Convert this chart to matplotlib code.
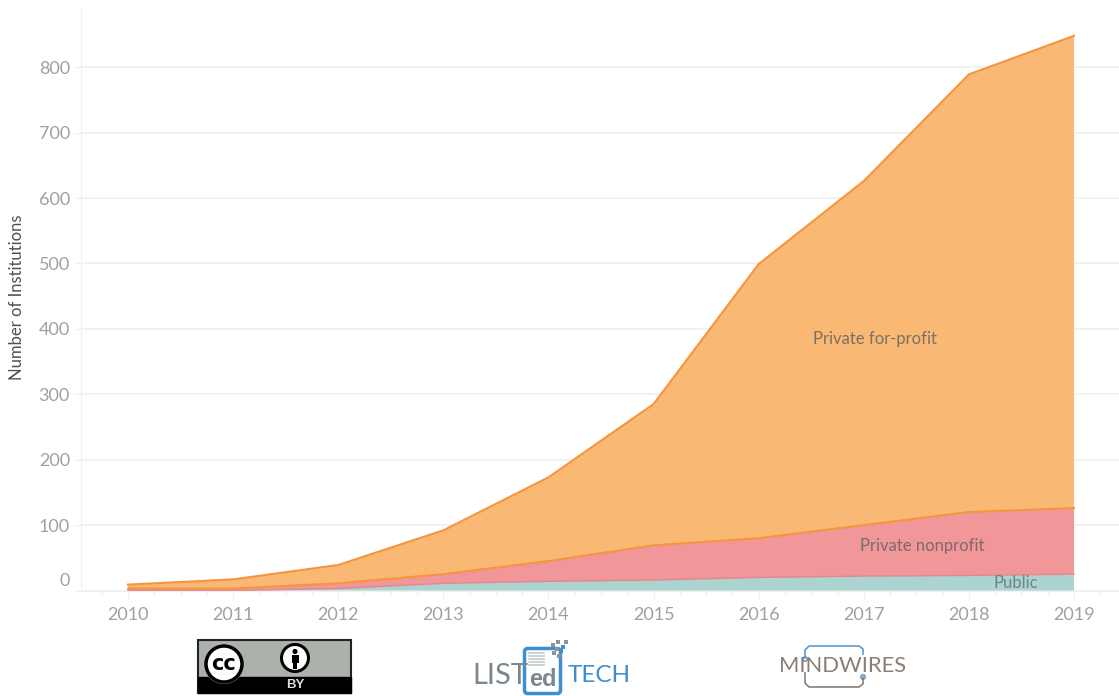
# plot.py
"""
Stacked area chart: institutions by sector, 2010-2019
"""
import matplotlib
matplotlib.use("Agg")
import matplotlib.pyplot as plt
from matplotlib.patches import Circle, FancyBboxPatch, Rectangle
from matplotlib.transforms import ScaledTranslation

plt.rcParams['font.family'] = ['Lato', 'DejaVu Sans']

W, H = 1119, 696

years = [2010, 2011, 2012, 2013, 2014, 2015, 2016, 2017, 2018, 2019]
public = [0, 0, 3, 11, 14, 16, 20, 22, 23, 25]
nonprofit = [3, 3, 8, 14, 31, 53, 60, 78, 97, 101]
forprofit = [6, 14, 28, 67, 128, 216, 419, 526, 669, 722]
y_ticks = [0, 100, 200, 300, 400, 500, 600, 700, 800]

colors = ['#abd3d0', '#f19699', '#f9b974']
edge_public = '#e5868a'
edge_top = '#f5953f'

fig = plt.figure(figsize=(W / 100, H / 100), dpi=100)
ax = fig.add_axes([81 / W, 1 - 590.5 / H, (W - 81) / W, (590.5 - 8) / H])

ax.stackplot(years, public, nonprofit, forprofit, colors=colors, linewidth=0)

tot1 = [a + b for a, b in zip(public, nonprofit)]
tot2 = [a + b for a, b in zip(tot1, forprofit)]
ax.plot(years, public, color=edge_public, linewidth=1.0)
ax.plot(years, tot1, color=edge_top, linewidth=1.5)
ax.plot(years, tot2, color=edge_top, linewidth=1.5)

ax.set_xlim(2009.553, 2019.428)
ax.set_ylim(0, 890.5)

ax.set_yticks(y_ticks)
ax.set_yticklabels([str(v) for v in y_ticks], fontsize=13, color='#a0a0a0')
ax.set_xticks(years)
ax.set_xticklabels([str(v) for v in years], fontsize=13, color='#a0a0a0')
ax.set_xticks([y + q for y in [2009] + years for q in (0.25, 0.5, 0.75) if 2009.6 < y + q < 2019.4], minor=True)
ax.tick_params(axis='x', which='major', length=6, width=1, color='#f0f0f0', pad=6)
ax.tick_params(axis='x', which='minor', length=3, width=1, color='#f0f0f0')
ax.tick_params(axis='y', length=5, width=1, color='#f0f0f0', pad=3)
ax.grid(axis='y', color='#f2f2f2', linewidth=1.4)
ax.set_axisbelow(True)

# the 0 label sits above its tick in the original
zero = ax.get_yticklabels()[0]
zero.set_transform(zero.get_transform() + ScaledTranslation(0, 8 / 72, fig.dpi_scale_trans))

for s in ('top', 'right'):
    ax.spines[s].set_visible(False)
for s in ('left', 'bottom'):
    ax.spines[s].set_color('#f0f0f0')

ax.text(2017.107, 385, 'Private for-profit', fontsize=12, color='#7d6f63', ha='center', va='center')
ax.text(2017.56, 68, 'Private nonprofit', fontsize=12, color='#7d6a6a', ha='center', va='center')
ax.text(2018.45, 11, 'Public', fontsize=12, color='#6f8483', ha='center', va='center')

fig.text(17 / W, 1 - 297 / H, 'Number of Institutions', rotation=90, fontsize=12,
         color='#505050', ha='center', va='center')

# logos, drawn on a pixel overlay
lg = fig.add_axes([0, 0, 1, 1], facecolor='none')
lg.set_xlim(0, W)
lg.set_ylim(H, 0)
lg.axis('off')

# cc by badge
lg.add_patch(Rectangle((198, 640), 153, 53, facecolor='#aab2ab', edgecolor='#222222', linewidth=1.5))
lg.add_patch(Rectangle((198, 677), 153, 16, facecolor='black', edgecolor='black'))
lg.add_patch(Circle((224, 664), 20, facecolor='#aab2ab', edgecolor='none'))
lg.add_patch(Circle((224, 664), 18, facecolor='white', edgecolor='black', linewidth=2.5))
lg.text(224, 664.5, 'cc', fontsize=15, fontweight='bold', color='black', ha='center', va='center',
        family='DejaVu Sans')
lg.add_patch(Circle((295, 658), 13.5, facecolor='white', edgecolor='black', linewidth=2.2))
lg.add_patch(Circle((295, 651.5), 2.6, facecolor='black', edgecolor='none'))
lg.add_patch(Rectangle((291.5, 655), 7, 8, facecolor='black', edgecolor='none'))
lg.add_patch(Rectangle((293, 662), 4, 7, facecolor='black', edgecolor='none'))
lg.text(295, 685.5, 'BY', fontsize=9.5, fontweight='bold', color='#dddddd', ha='center', va='center',
        family='Liberation Sans')

# listedtech
blue = '#3f8fce'
grey = '#7b878e'
lg.text(472, 676, 'LIST', fontsize=21, color=grey, ha='left', va='center', family='Lato')
lg.add_patch(FancyBboxPatch((524.5, 648.5), 36, 45, boxstyle='round,pad=0,rounding_size=3',
                            facecolor='white', edgecolor=blue, linewidth=2.5))
for yy in range(653, 668, 3):
    lg.plot([529, 544], [yy, yy], color='#c4c9cc', linewidth=1.2)
lg.text(543, 679, 'ed', fontsize=17, fontweight='bold', color=grey, ha='center', va='center',
        family='Liberation Sans')
lg.text(568, 676, 'TECH', fontsize=17.5, color=blue, ha='left', va='center', family='Lato')
lg.scatter([553, 557, 561, 566, 558, 563, 554, 559], [645, 649, 651, 642, 642, 647, 653, 656],
           s=6, marker='s', color=['#8a949a', '#8a949a', blue, '#8a949a', '#8a949a', blue, '#8a949a', '#8a949a'],
           linewidths=0)

# mindwires
brown = '#8a7f76'
lg.plot([805, 805, 809, 859, 863, 863], [658, 650, 646, 646, 649, 654], color='#5b9bd0', linewidth=1.2)
lg.plot([805, 805, 809, 859, 863, 863], [673, 683, 687, 687, 684, 677], color=brown, linewidth=1.2)
lg.add_patch(Circle((805, 659), 2.2, facecolor='white', edgecolor='#5b9bd0', linewidth=1.1))
lg.add_patch(Circle((863, 677), 2.2, facecolor='white', edgecolor='#5b9bd0', linewidth=1.1))
lg.text(843, 666, 'MINDWIRES', fontsize=15.8, color=brown, ha='center', va='center', family='Lato')

fig.savefig('out.png', dpi=100)
plt.close(fig)
